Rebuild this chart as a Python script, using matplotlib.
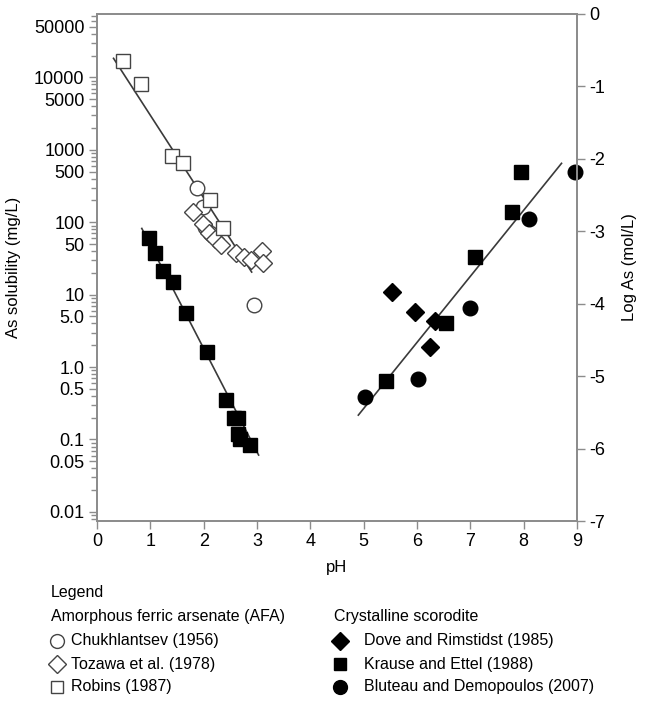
import matplotlib.pyplot as plt
from matplotlib.lines import Line2D
from matplotlib.ticker import FixedLocator, LogLocator, NullFormatter

plt.rcParams["font.family"] = ["Liberation Sans", "DejaVu Sans"]
plt.rcParams["axes.unicode_minus"] = False

# mg/L -> log mol/L offset for As (74.92 g/mol)
LOG_MG_PER_MOL = 4.8746

# Amorphous ferric arsenate (AFA), open symbols
chuk_ph = [1.88, 1.98, 2.03, 2.12, 2.95]
chuk_mg = [300, 160, 85, 72, 7.2]

tozawa_ph = [1.80, 1.98, 2.10, 2.22, 2.32, 2.60, 2.75, 2.88, 3.10, 3.12]
tozawa_mg = [140, 95, 70, 58, 48, 38, 33, 30, 40, 27]

robins_ph = [0.49, 0.82, 1.40, 1.61, 2.11, 2.37]
robins_mg = [17000, 8100, 820, 650, 205, 82]

# Crystalline scorodite, filled symbols
dove_ph = [5.53, 5.97, 6.34, 6.24]
dove_mg = [10.9, 5.8, 4.3, 1.9]

krause_ph = [0.97, 1.09, 1.24, 1.42, 1.67, 2.06, 2.42, 2.56, 2.65, 2.64, 2.69, 2.86,
             5.42, 6.55, 7.08, 7.79, 7.95]
krause_mg = [60, 38, 21, 15, 5.5, 1.6, 0.35, 0.2, 0.2, 0.12, 0.1, 0.085,
             0.65, 4.1, 33, 137, 500]

bluteau_ph = [5.03, 6.01, 7.0, 8.10, 8.97]
bluteau_mg = [0.38, 0.68, 6.5, 110, 500]

# trend lines (end points)
afa_fit_ph = [0.31, 2.90]
afa_fit_mg = [18300, 20.5]
low_fit_ph = [0.84, 3.03]
low_fit_mg = [82, 0.061]
high_fit_ph = [4.90, 8.71]
high_fit_mg = [0.217, 650]

left_ticks = [50000, 10000, 5000, 1000, 500, 100, 50, 10, 5, 1, 0.5, 0.1, 0.05, 0.01]
left_labels = ["50000", "10000", "5000", "1000", "500", "100", "50", "10",
               "5.0", "1.0", "0.5", "0.1", "0.05", "0.01"]

spine_col = "#8c8c8c"
line_col = "#3a3a3a"
open_col = "#444444"

fig = plt.figure(figsize=(6.68, 7.02), dpi=100)
ax = fig.add_axes([97 / 668, 1 - 521 / 702, 480 / 668, 507 / 702])
ax2 = ax.twinx()

ax.plot(afa_fit_ph, afa_fit_mg, color=line_col, lw=1.2)
ax.plot(low_fit_ph, low_fit_mg, color=line_col, lw=1.2)
ax.plot(high_fit_ph, high_fit_mg, color=line_col, lw=1.2)

open_kw = dict(ls="none", mfc="white", mec=open_col, mew=1.0)
fill_kw = dict(ls="none", color="black", mec="black")
styles = [
    (chuk_ph, chuk_mg, "o", 10.5, open_kw, "Chukhlantsev (1956)"),
    (tozawa_ph, tozawa_mg, "D", 9.5, open_kw, "Tozawa et al. (1978)"),
    (robins_ph, robins_mg, "s", 9.5, open_kw, "Robins (1987)"),
    (dove_ph, dove_mg, "D", 9.5, fill_kw, "Dove and Rimstidst (1985)"),
    (krause_ph, krause_mg, "s", 9.5, fill_kw, "Krause and Ettel (1988)"),
    (bluteau_ph, bluteau_mg, "o", 10.5, fill_kw, "Bluteau and Demopoulos (2007)"),
]
for xs, ys, m, ms, kw, lab in styles:
    ax.plot(xs, ys, marker=m, ms=ms, label=lab, clip_on=False, **kw)

ax.set_yscale("log")
ax.set_xlim(0, 9)
ax.set_ylim(10 ** (-7 + LOG_MG_PER_MOL), 10 ** LOG_MG_PER_MOL)
ax.yaxis.set_major_locator(FixedLocator(left_ticks))
ax.set_yticklabels(left_labels)
ax.yaxis.set_minor_locator(LogLocator(base=10, subs=range(2, 10), numticks=20))
ax.yaxis.set_minor_formatter(NullFormatter())
ax.set_xticks(range(10))

ax2.set_ylim(-7, 0)
ax2.set_yticks(range(-7, 1))

for a in (ax, ax2):
    for s in a.spines.values():
        s.set_color(spine_col)
        s.set_linewidth(1.3)
    a.tick_params(which="both", color=spine_col, width=1.0, labelsize=13,
                  direction="out", pad=3)
    a.tick_params(which="major", length=6)
    a.tick_params(which="minor", length=4)

ax.set_xlabel("pH", fontsize=12, labelpad=7)
ax.set_ylabel("As solubility (mg/L)", fontsize=12, labelpad=9)
ax2.set_ylabel("Log As (mol/L)", fontsize=12, labelpad=12)

# legend block below the plot
W, H = 668, 702
fs = 11.5
fig.text(51 / W, 1 - 593 / H, "Legend", fontsize=fs, va="center")
fig.text(51 / W, 1 - 617 / H, "Amorphous ferric arsenate (AFA)", fontsize=fs, va="center")
fig.text(334 / W, 1 - 617 / H, "Crystalline scorodite", fontsize=fs, va="center")
for i, (xs, ys, m, ms, kw, lab) in enumerate(styles):
    col = i // 3
    row = i % 3
    mx = (57 if col == 0 else 340) / W
    tx = (71 if col == 0 else 364) / W
    yy = 1 - (641 + 23 * row) / H
    fig.add_artist(Line2D([mx], [yy], marker=m, ms=ms * 0.95,
                          transform=fig.transFigure, **kw))
    fig.text(tx, yy, lab, fontsize=fs, va="center")

fig.savefig("out.png", dpi=100)
